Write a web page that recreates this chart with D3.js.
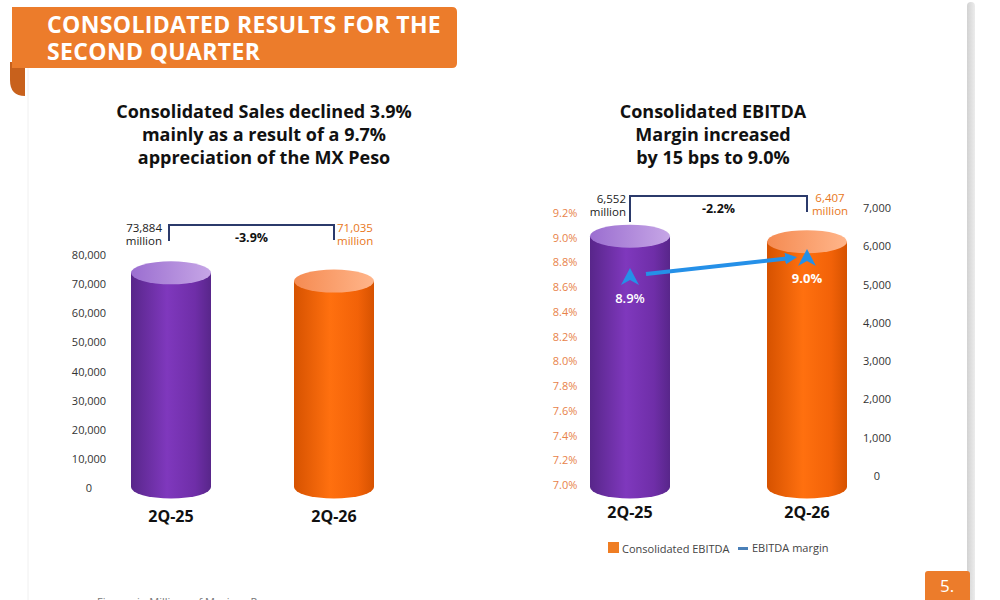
<!DOCTYPE html>
<html>
<head>
<meta charset="utf-8">
<script src="https://cdn.jsdelivr.net/npm/d3@7"></script>
<style>
  body { margin: 0; background: #fff; }
  svg { display: block; font-family: "Open Sans", sans-serif; }
</style>
</head>
<body>
<script>
// data
const periods = ["2Q-25", "2Q-26"]
const salesValues = [73884, 71035]
const salesLabels = ["73,884", "71,035"]
const salesChange = "-3.9%"
const salesTicks = [0, 10000, 20000, 30000, 40000, 50000, 60000, 70000, 80000]

const ebitdaValues = [6552, 6407]
const ebitdaLabels = ["6,552", "6,407"]
const ebitdaChange = "-2.2%"
const ebitdaTicks = [0, 1000, 2000, 3000, 4000, 5000, 6000, 7000]
const marginValues = [8.9, 9.0]
const marginTicks = [7.0, 7.2, 7.4, 7.6, 7.8, 8.0, 8.2, 8.4, 8.6, 8.8, 9.0, 9.2]

const leftTitle = ["Consolidated Sales declined 3.9%", "mainly as a result of a 9.7%", "appreciation of the MX Peso"]
const rightTitle = ["Consolidated EBITDA", "Margin increased", "by 15 bps to 9.0%"]

const navy = "#2b3a6b"
const blue = "#2590e8"
const bannerOrange = "#ec7c2b"

const svg = d3.select("body").append("svg")
  .attr("width", 1000)
  .attr("height", 600)

// gradients for cylinders
const defs = svg.append("defs")
function bodyGrad(id, dark, mid, light) {
  const g = defs.append("linearGradient").attr("id", id)
  g.append("stop").attr("offset", "0%").attr("stop-color", dark)
  g.append("stop").attr("offset", "45%").attr("stop-color", light)
  g.append("stop").attr("offset", "80%").attr("stop-color", mid)
  g.append("stop").attr("offset", "100%").attr("stop-color", dark)
}
function topGrad(id, a, b) {
  const g = defs.append("linearGradient").attr("id", id)
  g.append("stop").attr("offset", "0%").attr("stop-color", a)
  g.append("stop").attr("offset", "100%").attr("stop-color", b)
}
bodyGrad("purpleBody", "#58268a", "#6f2ea8", "#7f38bd")
bodyGrad("orangeBody", "#d65200", "#f26208", "#ff700f")
topGrad("purpleTop", "#9b6ed0", "#c6a6e6")
topGrad("orangeTop", "#f58b52", "#ffb58a")
const bodyFill = ["url(#purpleBody)", "url(#orangeBody)"]
const topFill = ["url(#purpleTop)", "url(#orangeTop)"]
const shadow = defs.append("linearGradient").attr("id", "edge")
shadow.append("stop").attr("offset", "0%").attr("stop-color", "#d2d2d2")
shadow.append("stop").attr("offset", "100%").attr("stop-color", "#ececec")

// page frame
svg.append("line")
  .attr("x1", 28).attr("y1", 68).attr("x2", 28).attr("y2", 600)
  .attr("stroke", "#f0f0f0")
svg.append("rect")
  .attr("x", 967).attr("y", 2).attr("width", 8).attr("height", 620).attr("rx", 4)
  .attr("fill", "url(#edge)")

// header banner
svg.append("path")
  .attr("d", "M10,62 L25,62 L25,96 Q10,96 10,80 Z")
  .attr("fill", "#c8611c")
svg.append("path")
  .attr("d", "M12,7 L452,7 Q457,7 457,12 L457,63 Q457,68 452,68 L12,68 Z")
  .attr("fill", bannerOrange)
const bannerText = svg.append("text")
  .attr("fill", "#fff")
  .attr("font-weight", 700)
  .attr("font-size", 23)
  .attr("letter-spacing", 0.35)
bannerText.append("tspan").attr("x", 47).attr("y", 33).text("CONSOLIDATED RESULTS FOR THE")
bannerText.append("tspan").attr("x", 47).attr("y", 60).text("SECOND QUARTER")

// page number tab
svg.append("rect")
  .attr("x", 925).attr("y", 571).attr("width", 45).attr("height", 34).attr("rx", 3)
  .attr("fill", bannerOrange)
svg.append("text")
  .attr("x", 947).attr("y", 592)
  .attr("text-anchor", "middle")
  .attr("fill", "#fff")
  .attr("font-size", 17)
  .text("5.")

// footnote (cut off at page bottom)
svg.append("text")
  .attr("x", 97).attr("y", 606)
  .attr("fill", "#777")
  .attr("font-size", 11)
  .text("Figures in Millions of Mexican Pesos")

// titles
function drawTitle(lines, cx) {
  const t = svg.append("text")
    .attr("text-anchor", "middle")
    .attr("font-weight", 700)
    .attr("font-size", 18)
    .attr("fill", "#111")
  lines.forEach((l, i) => {
    t.append("tspan").attr("x", cx).attr("y", 118 + i * 23).text(l)
  })
}
drawTitle(leftTitle, 264)
drawTitle(rightTitle, 713)

// cylinder helper
function cylinder(g, cx, top, base, rx, ry, i) {
  g.append("ellipse")
    .attr("cx", cx).attr("cy", base).attr("rx", rx).attr("ry", ry)
    .attr("fill", bodyFill[i])
  g.append("rect")
    .attr("x", cx - rx).attr("y", top).attr("width", rx * 2).attr("height", base - top)
    .attr("fill", bodyFill[i])
  g.append("ellipse")
    .attr("cx", cx).attr("cy", top).attr("rx", rx).attr("ry", ry)
    .attr("fill", topFill[i])
}

// bracket and value labels
function bracket(x0, x1, yTop, y0, y1, label, textY) {
  svg.append("path")
    .attr("d", `M${x0},${y0} L${x0},${yTop} L${x1},${yTop} L${x1},${y1}`)
    .attr("fill", "none")
    .attr("stroke", navy)
    .attr("stroke-width", 2)
  svg.append("text")
    .attr("x", (x0 + x1) / 2).attr("y", textY)
    .attr("text-anchor", "middle")
    .attr("font-weight", 700)
    .attr("font-size", 12.5)
    .attr("fill", "#111")
    .text(label)
}
function valueLabel(x, y, anchor, val, color) {
  const t = svg.append("text")
    .attr("text-anchor", anchor)
    .attr("font-size", 11.5)
    .attr("fill", color)
  t.append("tspan").attr("x", x).attr("y", y).text(val)
  t.append("tspan").attr("x", x).attr("y", y + 13).text("million")
}

// ---------- left chart: sales ----------
const xLeft = d3.scalePoint()
  .domain(periods)
  .range([171, 334])

const ySales = d3.scaleLinear()
  .domain([0, 80000])
  .range([488, 255])

const salesAxis = svg.append("g")
  .attr("transform", "translate(104,0)")
  .call(d3.axisLeft(ySales).tickValues(salesTicks).tickSize(0).tickFormat(d3.format(",")))
salesAxis.select(".domain").remove()
salesAxis.selectAll("text")
  .attr("x", -15)
  .attr("text-anchor", "middle")
  .attr("fill", "#333")
  .attr("font-size", 11)
  .attr("font-family", "Open Sans, sans-serif")

const salesBars = svg.append("g")
periods.forEach((p, i) => {
  cylinder(salesBars, xLeft(p), ySales(salesValues[i]), ySales(0) - 1, 40, 11.5, i)
})

svg.append("g").selectAll("text")
  .data(periods)
  .join("text")
    .attr("x", d => xLeft(d))
    .attr("y", 522)
    .attr("text-anchor", "middle")
    .attr("font-weight", 700)
    .attr("font-size", 16)
    .attr("fill", "#111")
    .text(d => d)

bracket(xLeft(periods[0]) - 2, xLeft(periods[1]), 225, 241, 240, salesChange, 242)
valueLabel(162, 232, "end", salesLabels[0], "#222")
valueLabel(337, 232, "start", salesLabels[1], "#e87722")

// ---------- right chart: EBITDA ----------
const xRight = d3.scalePoint()
  .domain(periods)
  .range([630, 807])

const yPct = d3.scaleLinear()
  .domain([7.0, 9.2])
  .range([485, 213])

const yEbitdaAxis = d3.scaleLinear()
  .domain([0, 7000])
  .range([476, 208])

// bars in the slide sit on a slightly lower base than the axis zero
const yEbitdaBar = d3.scaleLinear()
  .domain([0, 7000])
  .range([487, 219])

// margin markers are placed in the slide relative to the bar bodies
const yMarker = d3.scaleLinear()
  .domain([8.8, 9.1])
  .range([296, 239])

const pctAxis = svg.append("g")
  .attr("transform", "translate(580,0)")
  .call(d3.axisLeft(yPct).tickValues(marginTicks).tickSize(0).tickFormat(d => d3.format(".1f")(d) + "%"))
pctAxis.select(".domain").remove()
pctAxis.selectAll("text")
  .attr("x", -15)
  .attr("text-anchor", "middle")
  .attr("fill", "#e8834a")
  .attr("font-size", 11)
  .attr("font-family", "Open Sans, sans-serif")

const ebitdaAxis = svg.append("g")
  .attr("transform", "translate(862,0)")
  .call(d3.axisRight(yEbitdaAxis).tickValues(ebitdaTicks).tickSize(0).tickFormat(d3.format(",")))
ebitdaAxis.select(".domain").remove()
ebitdaAxis.selectAll("text")
  .attr("x", 15)
  .attr("text-anchor", "middle")
  .attr("fill", "#333")
  .attr("font-size", 11)
  .attr("font-family", "Open Sans, sans-serif")

const ebitdaBars = svg.append("g")
periods.forEach((p, i) => {
  cylinder(ebitdaBars, xRight(p), yEbitdaBar(ebitdaValues[i]), yEbitdaBar(0), 40, 11.5, i)
})

svg.append("g").selectAll("text")
  .data(periods)
  .join("text")
    .attr("x", d => xRight(d))
    .attr("y", 518)
    .attr("text-anchor", "middle")
    .attr("font-weight", 700)
    .attr("font-size", 16)
    .attr("fill", "#111")
    .text(d => d)

bracket(xRight(periods[0]), xRight(periods[1]), 196, 222, 212, ebitdaChange, 213)
valueLabel(626, 203, "end", ebitdaLabels[0], "#222")
valueLabel(830, 202, "middle", ebitdaLabels[1], "#e87722")

// margin line with arrow
defs.append("marker")
  .attr("id", "arrow")
  .attr("viewBox", "0 0 10 10")
  .attr("refX", 5).attr("refY", 5)
  .attr("markerWidth", 3).attr("markerHeight", 3)
  .attr("orient", "auto")
  .append("path")
    .attr("d", "M0,0 L10,5 L0,10 Z")
    .attr("fill", blue)

const m0 = [xRight(periods[0]), yMarker(marginValues[0])]
const m1 = [xRight(periods[1]), yMarker(marginValues[1])]
svg.append("line")
  .attr("x1", m0[0] + 16).attr("y1", m0[1] - 3)
  .attr("x2", m1[0] - 16).attr("y2", m1[1])
  .attr("stroke", blue)
  .attr("stroke-width", 4)
  .attr("marker-end", "url(#arrow)")

svg.append("g").selectAll("path")
  .data(marginValues)
  .join("path")
    .attr("transform", (d, i) => `translate(${xRight(periods[i])},${yMarker(d)})`)
    .attr("d", "M0,-9 L9,8 L0,3 L-9,8 Z")
    .attr("fill", blue)

svg.append("g").selectAll("text")
  .data(marginValues)
  .join("text")
    .attr("x", (d, i) => xRight(periods[i]))
    .attr("y", (d, i) => yMarker(d) + (i === 0 ? 26 : 25))
    .attr("text-anchor", "middle")
    .attr("font-weight", (d, i) => i === 0 ? 600 : 700)
    .attr("font-size", 13)
    .attr("fill", "#fff")
    .text(d => d3.format(".1f")(d) + "%")

// legend
const legend = svg.append("g").attr("font-size", 11).attr("fill", "#444")
legend.append("rect")
  .attr("x", 608).attr("y", 542).attr("width", 11).attr("height", 11)
  .attr("fill", "#ef7d23")
legend.append("text").attr("x", 622).attr("y", 553).attr("fill", "#444").text("Consolidated EBITDA")
legend.append("rect")
  .attr("x", 738).attr("y", 547).attr("width", 10).attr("height", 3)
  .attr("fill", "#4a80b8")
legend.append("text").attr("x", 752).attr("y", 552).attr("fill", "#444").text("EBITDA margin")
</script>
</body>
</html>
